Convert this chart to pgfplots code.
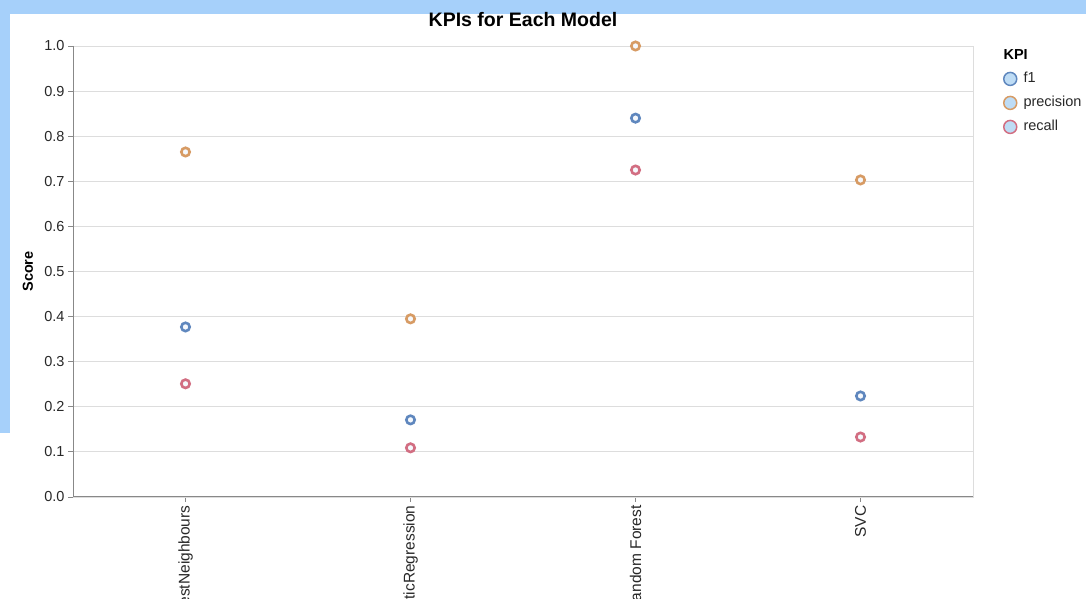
\documentclass[border=0pt]{standalone}
\usepackage{fontspec}
\setmainfont{Liberation Sans}
\usepackage{pgfplots}
\pgfplotsset{compat=1.18}
\definecolor{bgblue}{RGB}{166,208,250}
\definecolor{cf}{RGB}{95,135,190}
\definecolor{cp}{RGB}{215,155,100}
\definecolor{cr}{RGB}{210,110,130}
\definecolor{gridc}{RGB}{221,221,221}
\definecolor{axc}{RGB}{136,136,136}
\definecolor{lfill}{RGB}{190,220,245}
\definecolor{mfill}{RGB}{245,248,252}
\definecolor{txt}{RGB}{40,40,40}
\begin{document}
\begin{tikzpicture}[x=1bp,y=1bp]
\path[use as bounding box, clip] (0,0) rectangle (1086,599);
\fill[white] (0,0) rectangle (1086,599);
\fill[bgblue] (0,585) rectangle (1086,599);
\fill[bgblue] (0,166) rectangle (10,599);
\begin{axis}[
  at={(73bp,102bp)}, anchor=south west,
  width=900bp, height=451bp, scale only axis,
  xmin=-0.5, xmax=3.5, ymin=0, ymax=1,
  clip=false,
  xtick={0,1,2,3},
  xticklabels={KNearestNeighbours, LogisticRegression, Random Forest, SVC},
  ytick={0,0.1,0.2,0.3,0.4,0.5,0.6,0.7,0.8,0.9,1.0},
  /pgf/number format/assume math mode=true,
  yticklabel style={/pgf/number format/.cd, fixed, fixed zerofill, precision=1},
  ticklabel style={font=\fontsize{14.5bp}{17bp}\selectfont, text=txt},
  xticklabel style={rotate=90, anchor=east, font=\fontsize{15.5bp}{17bp}\selectfont},
  tick pos=left,
  tick align=outside,
  major tick length=5bp,
  tick style={axc, line width=0.8bp},
  ymajorgrids,
  grid style={gridc, line width=0.8bp},
  axis line style={gridc, line width=0.8bp},
  ylabel={Score},
  ylabel style={font=\bfseries\fontsize{14.5bp}{17bp}\selectfont, text=black,
    at={(axis description cs:-0.05,0.5)}, anchor=center},
  legend style={at={(axis description cs:1.0331,0.9435)}, anchor=north west, draw=none, fill=none,
    font=\fontsize{14.5bp}{17bp}\selectfont, text=txt, row sep=9.5bp, inner sep=0pt,
    /tikz/column sep=6bp,
    nodes={text height=11bp, text depth=3.5bp, inner sep=0pt}},
  legend cell align=left,
  after end axis/.code={
    \draw[axc, line width=1bp] (rel axis cs:0,1) -- (rel axis cs:0,0) -- (rel axis cs:1,0);
    \node[anchor=base west, font=\bfseries\fontsize{14.5bp}{17bp}\selectfont] at (axis description cs:1.030,0.969) {KPI};
    \node[anchor=base, font=\bfseries\fontsize{19.5bp}{22bp}\selectfont, yshift=19bp] at (axis description cs:0.5,1) {KPIs for Each Model};
  },
]
\addplot[only marks, mark=*, mark size=4.2bp, mark options={draw=cf, fill=mfill, line width=2.6bp}, forget plot]
  coordinates {(0,0.377) (1,0.171) (2,0.840) (3,0.224)};
\addplot[only marks, mark=*, mark size=4.2bp, mark options={draw=cp, fill=mfill, line width=2.6bp}, forget plot]
  coordinates {(0,0.765) (1,0.395) (2,1.000) (3,0.703)};
\addplot[only marks, mark=*, mark size=4.2bp, mark options={draw=cr, fill=mfill, line width=2.6bp}, forget plot]
  coordinates {(0,0.251) (1,0.109) (2,0.725) (3,0.133)};
\addlegendimage{legend image code/.code={\draw[draw=cf, fill=lfill, line width=1.5bp] (7bp,0bp) circle (6.5bp);}}
\addlegendentry{f1}
\addlegendimage{legend image code/.code={\draw[draw=cp, fill=lfill, line width=1.5bp] (7bp,0bp) circle (6.5bp);}}
\addlegendentry{precision}
\addlegendimage{legend image code/.code={\draw[draw=cr, fill=lfill, line width=1.5bp] (7bp,0bp) circle (6.5bp);}}
\addlegendentry{recall}
\end{axis}
\end{tikzpicture}
\end{document}
